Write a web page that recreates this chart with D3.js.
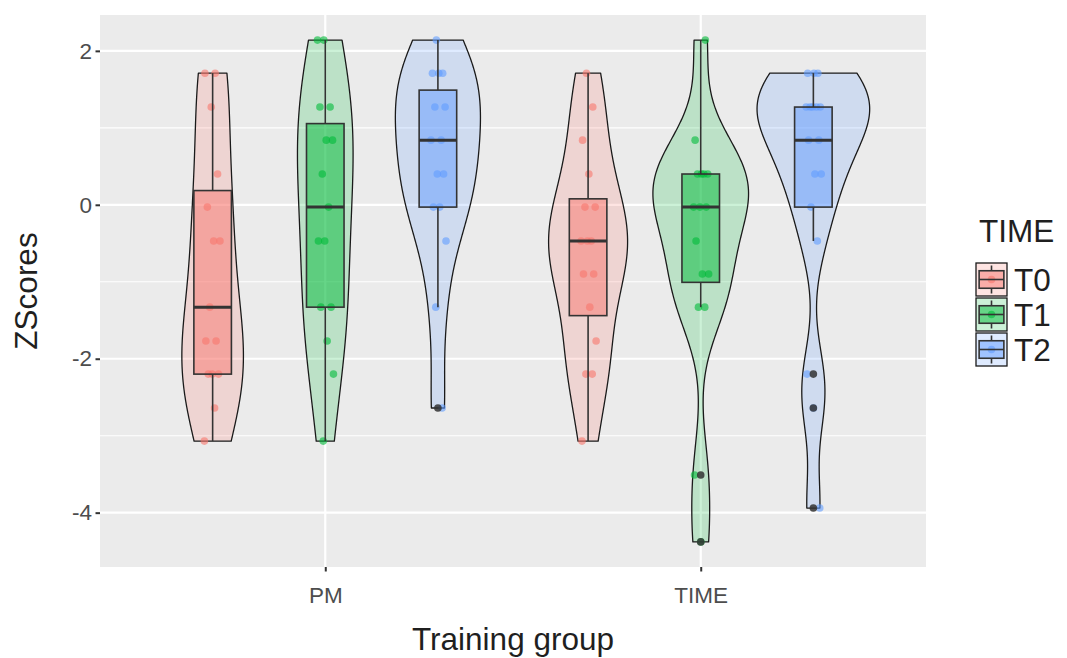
<!DOCTYPE html>
<html>
<head>
<meta charset="utf-8">
<script src="https://cdn.jsdelivr.net/npm/d3@7"></script>
<style>
  html, body { margin: 0; padding: 0; background: #ffffff; }
  svg { display: block; font-family: "Liberation Sans", Arial, sans-serif; }
</style>
</head>
<body>
<svg id="chart" width="1067" height="658"></svg>
<script>
// Training groups on the x axis, measurement times as dodged sub-groups
const groups = ["PM", "TIME"];
const times = ["T0", "T1", "T2"];
const timeColors = ["#F8766D", "#00BA38", "#619CFF"];
const yTickValues = [-4, -2, 0, 2];
const yMinorValues = [-3, -1, 1];

// Z scores per training group and time
const pmT0 = [-3.07, -2.64, -2.20, -2.20, -2.20, -1.77, -1.77, -1.33, -0.47, -0.47, -0.03, 0.40, 1.27, 1.71, 1.71];
const pmT1 = [-3.07, -2.20, -1.77, -1.33, -1.33, -0.47, -0.47, -0.03, 0.40, 0.84, 0.84, 1.27, 1.27, 2.14, 2.14];
const pmT2 = [-2.64, -1.33, -0.47, -0.03, -0.03, 0.40, 0.40, 0.84, 0.84, 1.27, 1.27, 1.71, 1.71, 1.71, 2.14];
const timeT0 = [-3.07, -2.20, -2.20, -1.77, -1.33, -0.90, -0.90, -0.47, -0.47, -0.47, -0.03, -0.03, 0.40, 0.84, 1.27, 1.71];
const timeT1 = [-4.38, -3.51, -1.33, -1.33, -0.90, -0.90, -0.47, -0.03, -0.03, -0.03, 0.40, 0.40, 0.40, 0.40, 0.84, 2.14];
const timeT2 = [-3.94, -2.64, -2.20, -0.47, -0.03, 0.40, 0.40, 0.84, 0.84, 1.27, 1.27, 1.27, 1.27, 1.27, 1.71, 1.71, 1.71];

const series = [
  { group: "PM", time: "T0", values: pmT0 },
  { group: "PM", time: "T1", values: pmT1 },
  { group: "PM", time: "T2", values: pmT2 },
  { group: "TIME", time: "T0", values: timeT0 },
  { group: "TIME", time: "T1", values: timeT1 },
  { group: "TIME", time: "T2", values: timeT2 }
];

const svg = d3.select("#chart");
const panel = { left: 100, right: 926, top: 15, bottom: 567 };
const colorOf = d3.scaleOrdinal().domain(times).range(timeColors);
const titleSize = "31.5px";
const tickSize = "22.5px";

// Scales: 5% expansion on y, discrete x with 0.6 padding on each side
const allValues = series.flatMap(s => s.values);
const [vMin, vMax] = d3.extent(allValues);
const pad = (vMax - vMin) * 0.05;
const y = d3.scaleLinear().domain([vMin - pad, vMax + pad]).range([panel.bottom, panel.top]);
const x = d3.scalePoint().domain(groups).range([panel.left, panel.right]).padding(0.6);
const step = x.step();
const dodge = d3.scaleBand().domain(times).range([-0.45 * step, 0.45 * step]);
const centerX = (g, t) => x(g) + dodge(t) + dodge.bandwidth() / 2;

// Panel background and grid
svg.append("rect")
  .attr("x", panel.left).attr("y", panel.top)
  .attr("width", panel.right - panel.left).attr("height", panel.bottom - panel.top)
  .attr("fill", "#EBEBEB");

const grid = svg.append("g");
grid.selectAll("line.minor").data(yMinorValues).join("line")
  .attr("x1", panel.left).attr("x2", panel.right)
  .attr("y1", d => y(d)).attr("y2", d => y(d))
  .attr("stroke", "#ffffff").attr("stroke-width", 1.1);
grid.selectAll("line.major").data(yTickValues).join("line")
  .attr("x1", panel.left).attr("x2", panel.right)
  .attr("y1", d => y(d)).attr("y2", d => y(d))
  .attr("stroke", "#ffffff").attr("stroke-width", 2.2);
grid.selectAll("line.vert").data(groups).join("line")
  .attr("x1", d => x(d)).attr("x2", d => x(d))
  .attr("y1", panel.top).attr("y2", panel.bottom)
  .attr("stroke", "#ffffff").attr("stroke-width", 2.2);

// Summary statistics and Gaussian kernel density (bw.nrd0, trimmed to data range)
const stats = series.map((s, si) => {
  const v = s.values.slice().sort(d3.ascending);
  const n = v.length;
  const q1 = d3.quantile(v, 0.25), med = d3.quantile(v, 0.5), q3 = d3.quantile(v, 0.75);
  const iqr = q3 - q1;
  let lo = Math.min(d3.deviation(v), iqr / 1.34);
  if (!(lo > 0)) lo = d3.deviation(v) || 1;
  const bw = 0.9 * lo * Math.pow(n, -0.2);
  const grid512 = d3.range(512).map(i => v[0] + (v[n - 1] - v[0]) * i / 511);
  const dens = grid512.map(t => ({
    y: t,
    d: d3.sum(v, d => Math.exp(-0.5 * ((t - d) / bw) ** 2)) / (n * bw * Math.sqrt(2 * Math.PI))
  }));
  const upperFence = q3 + 1.5 * iqr, lowerFence = q1 - 1.5 * iqr;
  const inside = v.filter(d => d >= lowerFence && d <= upperFence);
  return {
    ...s, index: si, sorted: v, q1, med, q3,
    whiskerLo: d3.min(inside), whiskerHi: d3.max(inside),
    outliers: v.filter(d => d < lowerFence || d > upperFence),
    dens, cx: centerX(s.group, s.time)
  };
});

const maxDens = d3.max(stats, s => d3.max(s.dens, d => d.d));
const halfViolin = dodge.bandwidth() / 2;

// Violins
const violinLayer = svg.append("g");
stats.forEach(s => {
  const area = d3.area()
    .y(d => y(d.y))
    .x0(d => s.cx - d.d / maxDens * halfViolin)
    .x1(d => s.cx + d.d / maxDens * halfViolin);
  violinLayer.append("path")
    .attr("d", area(s.dens))
    .attr("fill", colorOf(s.time)).attr("fill-opacity", 0.2)
    .attr("stroke", "#1a1a1a").attr("stroke-width", 1.3)
    .attr("stroke-linejoin", "round");
});

// Jittered observations (deterministic horizontal spread)
const jitterHalf = 0.022 * step;
const pointLayer = svg.append("g");
stats.forEach(s => {
  s.values.forEach((v, i) => {
    const u = ((i * 0.618034 + s.index * 0.377) % 1);
    pointLayer.append("circle")
      .attr("cx", s.cx + (u - 0.5) * 2 * jitterHalf)
      .attr("cy", y(v))
      .attr("r", 3.8)
      .attr("fill", colorOf(s.time)).attr("fill-opacity", 0.6);
  });
});

// Boxplots
const boxHalf = 0.05 * step;
const boxLayer = svg.append("g");
stats.forEach(s => {
  const g = boxLayer.append("g");
  g.append("line")
    .attr("x1", s.cx).attr("x2", s.cx)
    .attr("y1", y(s.q3)).attr("y2", y(s.whiskerHi))
    .attr("stroke", "#333333").attr("stroke-width", 1.6);
  g.append("line")
    .attr("x1", s.cx).attr("x2", s.cx)
    .attr("y1", y(s.q1)).attr("y2", y(s.whiskerLo))
    .attr("stroke", "#333333").attr("stroke-width", 1.6);
  g.append("rect")
    .attr("x", s.cx - boxHalf).attr("width", boxHalf * 2)
    .attr("y", y(s.q3)).attr("height", y(s.q1) - y(s.q3))
    .attr("fill", colorOf(s.time)).attr("fill-opacity", 0.5)
    .attr("stroke", "#333333").attr("stroke-width", 1.6);
  g.append("line")
    .attr("x1", s.cx - boxHalf).attr("x2", s.cx + boxHalf)
    .attr("y1", y(s.med)).attr("y2", y(s.med))
    .attr("stroke", "#333333").attr("stroke-width", 3);
  g.selectAll("circle").data(s.outliers).join("circle")
    .attr("cx", s.cx).attr("cy", d => y(d)).attr("r", 3.8)
    .attr("fill", "#333333").attr("fill-opacity", 0.85);
});

// Axes
const yAxis = svg.append("g")
  .attr("transform", `translate(${panel.left},0)`)
  .call(d3.axisLeft(y).tickValues(yTickValues).tickSize(4.5).tickPadding(3.5).tickFormat(d3.format("d")));
const xAxis = svg.append("g")
  .attr("transform", `translate(0,${panel.bottom})`)
  .call(d3.axisBottom(x).tickSize(4.5).tickPadding(16));
[yAxis, xAxis].forEach(a => {
  a.select(".domain").remove();
  a.selectAll(".tick line").attr("stroke", "#333333").attr("stroke-width", 2);
  a.selectAll(".tick text")
    .attr("fill", "#4D4D4D")
    .style("font-size", tickSize)
    .style("font-family", "'Liberation Sans', Arial, sans-serif");
});
yAxis.selectAll(".tick text").text(d => d < 0 ? "-" + Math.abs(d) : String(d));

// Axis titles
svg.append("text")
  .attr("x", (panel.left + panel.right) / 2).attr("y", 650)
  .attr("text-anchor", "middle")
  .attr("fill", "#1f1f1f").style("font-size", titleSize)
  .text("Training group");
svg.append("text")
  .attr("transform", `translate(37,${(panel.top + panel.bottom) / 2}) rotate(-90)`)
  .attr("text-anchor", "middle")
  .attr("fill", "#1f1f1f").style("font-size", titleSize)
  .text("ZScores");

// Legend
const legend = svg.append("g");
legend.append("text")
  .attr("x", 979).attr("y", 242)
  .attr("fill", "#1f1f1f").style("font-size", titleSize)
  .text("TIME");
const keyW = 33, keyH = 35, keyX = 975, keyY0 = 262;
times.forEach((t, k) => {
  const kx = keyX, ky = keyY0 + k * keyH;
  const g = legend.append("g");
  g.append("rect")
    .attr("x", kx + 1).attr("y", ky + 1).attr("width", keyW - 2).attr("height", keyH - 2)
    .attr("fill", colorOf(t)).attr("fill-opacity", 0.2)
    .attr("stroke", "#1a1a1a").attr("stroke-width", 1.3);
  g.append("circle")
    .attr("cx", kx + keyW / 2).attr("cy", ky + keyH / 2).attr("r", 3.8)
    .attr("fill", colorOf(t)).attr("fill-opacity", 0.6);
  g.append("line")
    .attr("x1", kx + keyW / 2).attr("x2", kx + keyW / 2)
    .attr("y1", ky + keyH * 0.1).attr("y2", ky + keyH * 0.25)
    .attr("stroke", "#333333").attr("stroke-width", 1.6);
  g.append("line")
    .attr("x1", kx + keyW / 2).attr("x2", kx + keyW / 2)
    .attr("y1", ky + keyH * 0.75).attr("y2", ky + keyH * 0.9)
    .attr("stroke", "#333333").attr("stroke-width", 1.6);
  g.append("rect")
    .attr("x", kx + keyW * 0.125).attr("y", ky + keyH * 0.25)
    .attr("width", keyW * 0.75).attr("height", keyH * 0.5)
    .attr("fill", colorOf(t)).attr("fill-opacity", 0.5)
    .attr("stroke", "#333333").attr("stroke-width", 1.6);
  g.append("line")
    .attr("x1", kx + keyW * 0.125).attr("x2", kx + keyW * 0.875)
    .attr("y1", ky + keyH / 2).attr("y2", ky + keyH / 2)
    .attr("stroke", "#333333").attr("stroke-width", 1.6);
  legend.append("text")
    .attr("x", 1014).attr("y", ky + keyH / 2)
    .attr("dy", "0.36em")
    .attr("fill", "#1f1f1f").style("font-size", titleSize)
    .text(t);
});
</script>
</body>
</html>
